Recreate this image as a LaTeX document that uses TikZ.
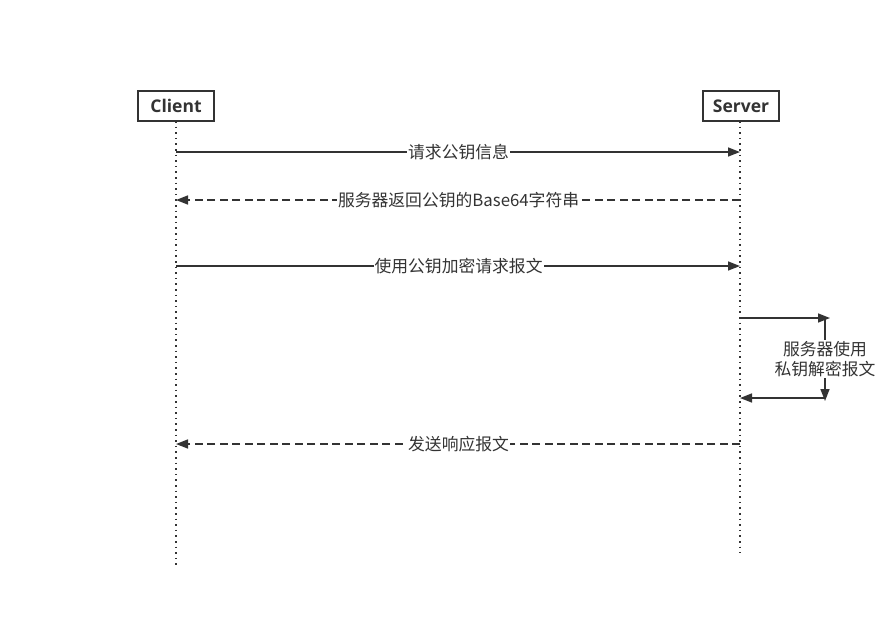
\documentclass[tikz,border=0pt]{standalone}
\usepackage{fontspec}
\setmainfont{Open Sans}
\newfontfamily\cjk{Noto Sans CJK SC}
\usetikzlibrary{arrows.meta}
\definecolor{ink}{HTML}{333333}
\begin{document}
\begin{tikzpicture}[x=1pt,y=-1pt,
  actor/.style={draw=ink,line width=1.5pt,fill=white,minimum width=76pt,minimum height=30pt,inner sep=0pt,font=\fontsize{17.5}{19}\selectfont\bfseries,text=ink},
  lifeline/.style={draw=ink,line width=1.6pt,dash pattern=on 1.6pt off 4pt},
  msg/.style={draw=ink,line width=1.5pt,-{Triangle[length=12pt,width=9pt]}},
  reply/.style={msg,dash pattern=on 8pt off 4.5pt},
  lbl/.style={fill=white,inner sep=1pt,text=ink,font=\cjk\fontsize{16.8}{20}\selectfont}
]
\useasboundingbox (0,0) rectangle (889,633);
\fill[white] (0,0) rectangle (889,633);
% actors
\coordinate (cEnd) at (176,568);
\coordinate (sEnd) at (740,553);
\draw[lifeline] (176,121) -- (cEnd);
\draw[lifeline] (740,121) -- (sEnd);
\node[actor] (client) at (176,106) {Client};
\node[actor] (server) at (741,106) {Server};
% anchor points
\coordinate (c1) at (176,152); \coordinate (s1) at (740,152);
\coordinate (c2) at (176,200); \coordinate (s2) at (740,200);
\coordinate (c3) at (176,266); \coordinate (s3) at (740,266);
\coordinate (s4a) at (740,318); \coordinate (s4b) at (830,318);
\coordinate (s4c) at (825,318); \coordinate (s4d) at (825,401);
\coordinate (s4e) at (825,398); \coordinate (s4f) at (740,398);
\coordinate (c5) at (176,444); \coordinate (s5) at (740,444);
% messages
\draw[msg] (c1) -- (s1) node[lbl,pos=0.501] (m1) {请求公钥信息};
\draw[reply] (s2) -- (c2) node[lbl,pos=0.499] (m2) {服务器返回公钥的Base64字符串};
\draw[msg] (c3) -- (s3) node[lbl,pos=0.501] (m3) {使用公钥加密请求报文};
\draw[msg] (s4a) -- (s4b);
\draw[msg] (s4c) -- (s4d);
\draw[msg] (s4e) -- (s4f);
\node[lbl,align=center] (m4) at (825,359) {服务器使用\\私钥解密报文};
\draw[reply] (s5) -- (c5) node[lbl,pos=0.499] (m5) {发送响应报文};
\end{tikzpicture}
\end{document}
